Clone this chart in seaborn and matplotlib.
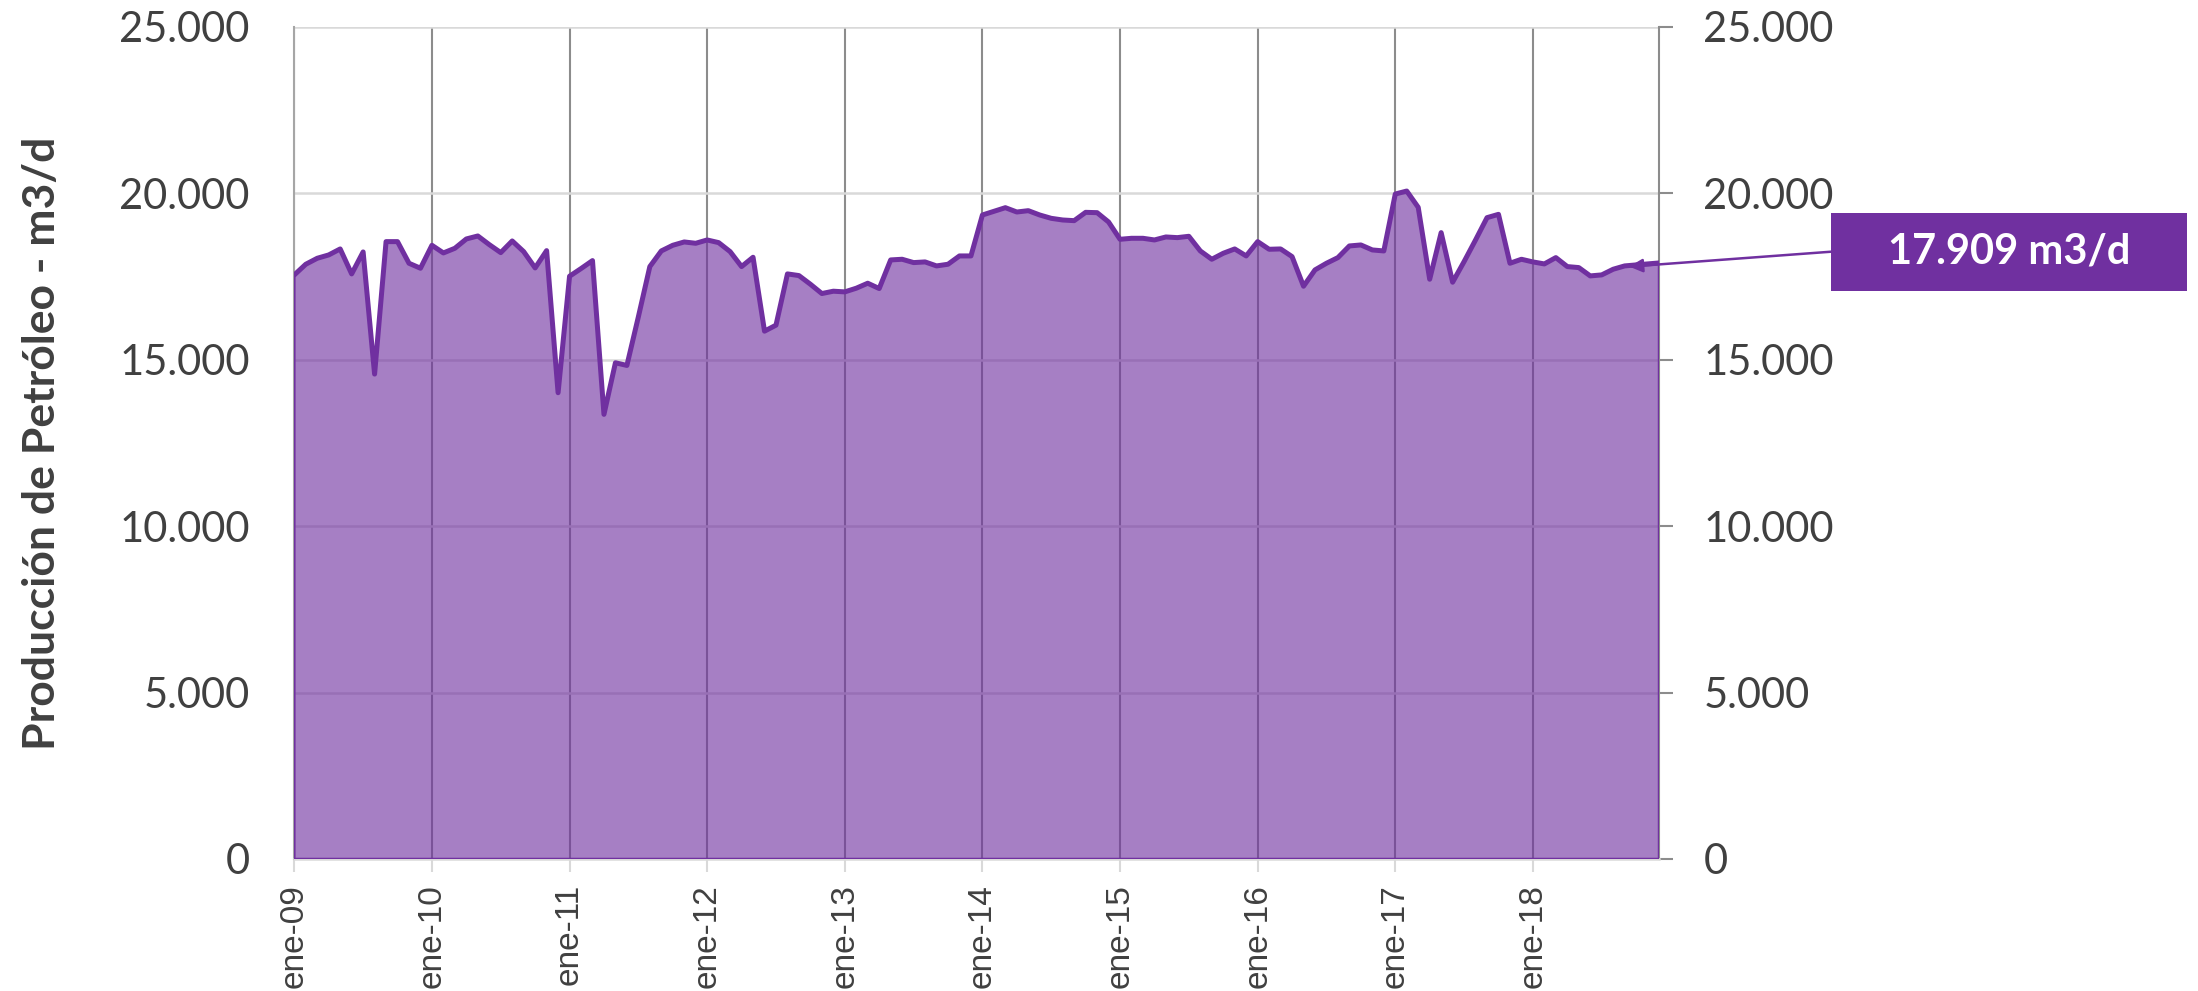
import numpy as np
import pandas as pd
import matplotlib
matplotlib.use("Agg")
import matplotlib.pyplot as plt
import matplotlib.ticker as mticker
from matplotlib.patches import Rectangle
import seaborn as sns

# Producción mensual de petróleo (m3/d), enero 2009 - diciembre 2018
produccion = [
    17550, 17870, 18050, 18150, 18330, 17580, 18240, 14570, 18550, 18550, 17900, 17750,  # 2009
    18440, 18210, 18350, 18630, 18720, 18460, 18220, 18570, 18250, 17760, 18280, 14010,  # 2010
    17510, 17740, 17980, 13360, 14910, 14830, 16290, 17800, 18270, 18440, 18540, 18500,  # 2011
    18600, 18520, 18250, 17800, 18080, 15860, 16040, 17580, 17530, 17270, 16990, 17060,  # 2012
    17040, 17150, 17300, 17140, 18000, 18020, 17920, 17940, 17820, 17870, 18120, 18120,  # 2013
    19350, 19460, 19570, 19440, 19480, 19350, 19250, 19200, 19180, 19430, 19420, 19140,  # 2014
    18620, 18650, 18650, 18600, 18690, 18670, 18710, 18270, 18020, 18200, 18330, 18120,  # 2015
    18550, 18320, 18330, 18100, 17210, 17700, 17900, 18070, 18420, 18450, 18300, 18270,  # 2016
    19980, 20070, 19580, 17420, 18820, 17330, 17950, 18600, 19270, 19370, 17900, 18020,  # 2017
    17940, 17880, 18070, 17800, 17770, 17520, 17550, 17720, 17820, 17850, 17880, 17909,  # 2018
]
etiquetas_anio = ["ene-09", "ene-10", "ene-11", "ene-12", "ene-13",
                  "ene-14", "ene-15", "ene-16", "ene-17", "ene-18"]
ultimo_valor = "17.909 m3/d"

MORADO = "#7030A0"
TEXTO = "#404040"

sns.set_theme(style="white")
plt.rcParams["font.family"] = ["Lato", "DejaVu Sans"]

df = pd.DataFrame({"mes": np.arange(len(produccion)), "valor": produccion})

fig = plt.figure(figsize=(21.98, 9.91), dpi=100)
ax = fig.add_axes([0.1339, 0.1332, 0.6209, 0.8396])

# Área rellena con borde morado
ax.fill_between(df["mes"], 0, df["valor"], facecolor=MORADO, alpha=0.62,
                edgecolor="none", zorder=2)
ax.fill_between(df["mes"], 0, df["valor"], facecolor="none",
                edgecolor=MORADO, linewidth=1.8, zorder=3)
sns.lineplot(data=df, x="mes", y="valor", ax=ax, color=MORADO,
             linewidth=3.6, zorder=4, legend=False)

ax.set_xlim(0, len(produccion) - 1)
ax.set_ylim(0, 25000)

# Ejes y cuadrícula
ax.set_axisbelow(True)
ax.yaxis.set_major_locator(mticker.MultipleLocator(5000))
ax.yaxis.set_major_formatter(
    mticker.FuncFormatter(lambda v, p: f"{int(v):,}".replace(",", ".")))
ax.set_xticks(np.arange(0, len(produccion), 12))
ax.set_xticklabels(etiquetas_anio, rotation=90, fontfamily="Liberation Sans",
                   fontsize=24, color=TEXTO)
ax.grid(axis="y", color="#d9d9d9", linewidth=1.8, zorder=0)
ax.grid(axis="x", color="#8c8c8c", linewidth=1.5, zorder=0)

ax.tick_params(axis="y", left=False, right=True, labelleft=True,
               labelright=True, length=10, width=1.5, color="#8c8c8c",
               pad=22, labelsize=30, labelcolor=TEXTO)
ax.tick_params(axis="x", bottom=True, length=9, width=1.5, color="#d9d9d9",
               pad=9)
for lbl in ax.get_xticklabels():
    lbl.set_verticalalignment("top")

ax.spines["top"].set_visible(False)
ax.spines["left"].set_color("#a6a6a6")
ax.spines["left"].set_linewidth(1.5)
ax.spines["right"].set_color("#8c8c8c")
ax.spines["right"].set_linewidth(1.5)
ax.spines["bottom"].set_color("#d9d9d9")
ax.spines["bottom"].set_linewidth(1.8)
ax.set_xlabel("")
ax.set_ylabel("")

fig.text(0.0191, 0.553, "Producción de Petróleo - m3/d", rotation=90,
         ha="center", va="center", fontsize=32, fontweight="bold",
         color=TEXTO)

# Etiqueta del último valor
caja = Rectangle((0.833, 0.706), 0.162, 0.079, transform=fig.transFigure,
                 facecolor=MORADO, edgecolor="none")
fig.patches.append(caja)
fig.text(0.914, 0.7465, ultimo_valor, ha="center", va="center",
         fontsize=30, fontweight="bold", color="white")
ax.annotate("", xy=(len(produccion) - 3.6, produccion[-1] - 110),
            xycoords="data", xytext=(0.833, 0.746),
            textcoords="figure fraction",
            arrowprops=dict(arrowstyle="-|>,head_length=0.8,head_width=0.4",
                            color=MORADO, lw=1.8, mutation_scale=10,
                            shrinkA=0, shrinkB=0),
            annotation_clip=False, zorder=6)

fig.savefig("out.png", dpi=100)
